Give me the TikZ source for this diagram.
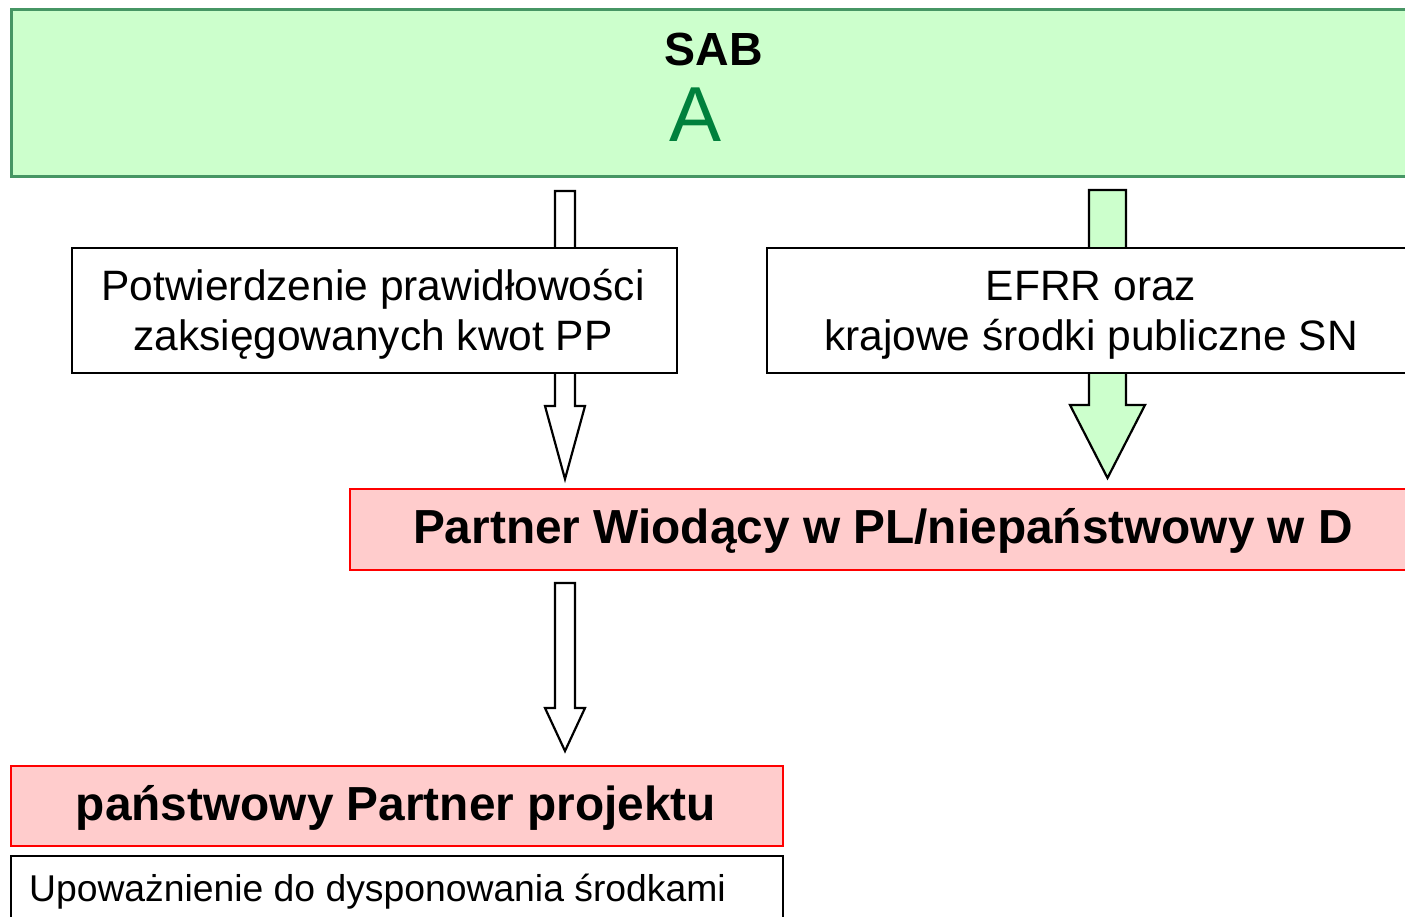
\documentclass[tikz,border=0pt]{standalone}
\usepackage{fontspec}
\setmainfont{Liberation Sans}
\definecolor{lgreen}{RGB}{204,255,204}
\definecolor{dgreen}{RGB}{70,150,100}
\definecolor{agreen}{RGB}{0,128,60}
\definecolor{lpink}{RGB}{255,204,204}
\tikzset{
  box/.style={draw=black,line width=2.2pt,fill=white,anchor=north west,inner sep=0pt},
  greenbox/.style={draw=dgreen,line width=2.6pt,fill=lgreen,anchor=north west,inner sep=0pt},
  pinkbox/.style={draw=red,line width=2.2pt,fill=lpink,anchor=north west,inner sep=0pt},
  txt/.style={anchor=base,inner sep=0pt,font=\fontsize{42.5}{50}\selectfont},
  btxt/.style={anchor=base,inner sep=0pt,font=\fontsize{47.8}{52}\selectfont\bfseries},
  arrowline/.style={draw=black,line width=2.2pt,line join=miter}
}
\newcommand\blockarrow[7]{%
  \draw[arrowline,fill=#7] (#1-#5,#2) -- (#1+#5,#2) -- (#1+#5,#3) -- (#1+#6,#3) -- (#1,#4) -- (#1-#6,#3) -- (#1-#5,#3) -- cycle;}
\begin{document}
\begin{tikzpicture}[x=1pt,y=-1pt]
\useasboundingbox (0,0) rectangle (1405,916);
\clip (0,0) rectangle (1405,916);
% block arrows (drawn behind boxes)
\blockarrow{565}{191}{406}{479}{10}{20}{white}
\blockarrow{1107.5}{190}{405}{478}{18.5}{37.5}{lgreen}
\blockarrow{565}{583}{708}{751}{10}{20}{white}
% boxes
\node[greenbox,minimum width=1407pt,minimum height=167pt] (sab) at (10,8) {};
\node[box,minimum width=605pt,minimum height=125pt] (pp) at (71,247) {};
\node[box,minimum width=651pt,minimum height=125pt] (efrr) at (766,247) {};
\node[pinkbox,minimum width=1068pt,minimum height=81pt] (pw) at (349,488) {};
\node[pinkbox,minimum width=772pt,minimum height=80pt] (pan) at (10,765) {};
\node[box,minimum width=772pt,minimum height=80pt] (upo) at (10,855) {};
% texts
\node[anchor=base,inner sep=0pt,font=\fontsize{46.5}{52}\selectfont\bfseries] (sabt) at (713.5,65) {SAB};
\node[anchor=base,inner sep=0pt,font=\fontsize{78}{80}\selectfont,text=agreen] (sabA) at (696,141) {A};
\node[txt] (pp1) at (373,300) {Potwierdzenie prawidłowości};
\node[txt] (pp2) at (373,350) {zaksięgowanych kwot PP};
\node[txt] (ef1) at (1091,300) {EFRR oraz};
\node[txt] (ef2) at (1091,350) {krajowe środki publiczne SN};
\node[btxt] (pwt) at (883,543) {Partner Wiodący w PL/niepaństwowy w D};
\node[btxt] (pant) at (396,820) {państwowy Partner projektu};
\node[anchor=base,inner sep=0pt,font=\fontsize{37.3}{42}\selectfont] (upot) at (377.5,901) {Upoważnienie do dysponowania środkami};
\end{tikzpicture}
\end{document}
